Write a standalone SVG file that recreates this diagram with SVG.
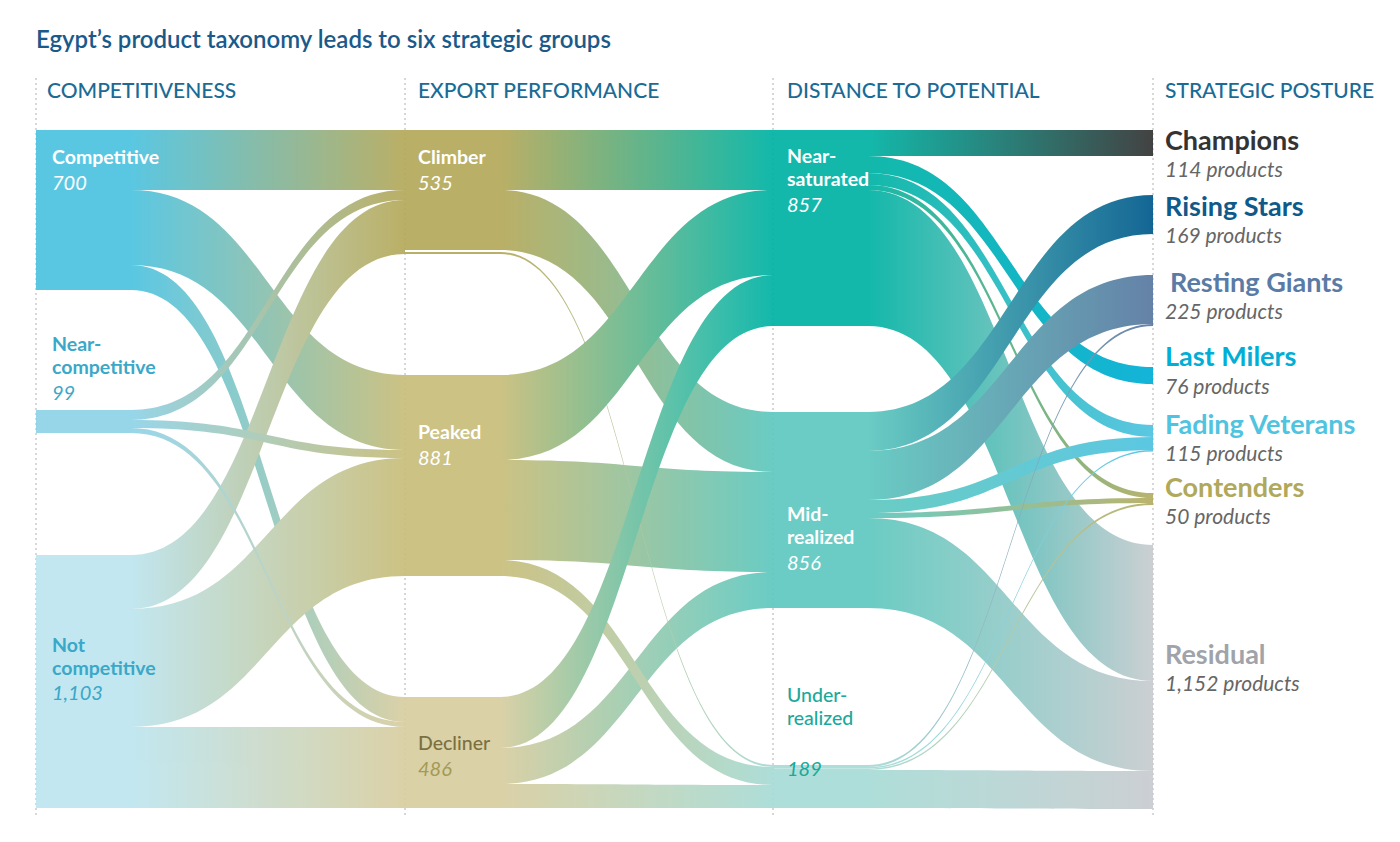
<svg xmlns="http://www.w3.org/2000/svg" width="1400" height="842" viewBox="0 0 1400 842">
<style>
.t{font-family:"Lato","Liberation Sans",sans-serif}
.h{font-size:21px;fill:#1a6b96;font-weight:500}
.n{font-size:19.5px;font-weight:700;fill:#fff}
.v{font-size:20px;font-style:italic;fill:#fff}
.r{font-size:27px;font-weight:700}
.p{font-size:21px;font-style:italic;fill:#666}
.f{opacity:0.92}
</style>
<defs>
<linearGradient id="g11" gradientUnits="userSpaceOnUse" x1="131" x2="405"><stop offset="0" stop-color="#4dc3e0"/><stop offset="1" stop-color="#b5a95a"/></linearGradient>
<linearGradient id="g12" gradientUnits="userSpaceOnUse" x1="131" x2="405"><stop offset="0" stop-color="#4dc3e0"/><stop offset="1" stop-color="#c8bd7a"/></linearGradient>
<linearGradient id="g13" gradientUnits="userSpaceOnUse" x1="131" x2="405"><stop offset="0" stop-color="#4dc3e0"/><stop offset="1" stop-color="#d8cea0"/></linearGradient>
<linearGradient id="g21" gradientUnits="userSpaceOnUse" x1="131" x2="405"><stop offset="0" stop-color="#8fd3e8"/><stop offset="1" stop-color="#b5a95a"/></linearGradient>
<linearGradient id="g22" gradientUnits="userSpaceOnUse" x1="131" x2="405"><stop offset="0" stop-color="#8fd3e8"/><stop offset="1" stop-color="#c8bd7a"/></linearGradient>
<linearGradient id="g23" gradientUnits="userSpaceOnUse" x1="131" x2="405"><stop offset="0" stop-color="#8fd3e8"/><stop offset="1" stop-color="#d8cea0"/></linearGradient>
<linearGradient id="g31" gradientUnits="userSpaceOnUse" x1="131" x2="405"><stop offset="0" stop-color="#bde5ef"/><stop offset="1" stop-color="#b5a95a"/></linearGradient>
<linearGradient id="g32" gradientUnits="userSpaceOnUse" x1="131" x2="405"><stop offset="0" stop-color="#bde5ef"/><stop offset="1" stop-color="#c8bd7a"/></linearGradient>
<linearGradient id="g33" gradientUnits="userSpaceOnUse" x1="131" x2="405"><stop offset="0" stop-color="#bde5ef"/><stop offset="1" stop-color="#d8cea0"/></linearGradient>
<linearGradient id="h11" gradientUnits="userSpaceOnUse" x1="500" x2="773"><stop offset="0" stop-color="#b5a95a"/><stop offset="1" stop-color="#00b3a4"/></linearGradient>
<linearGradient id="h12" gradientUnits="userSpaceOnUse" x1="500" x2="773"><stop offset="0" stop-color="#b5a95a"/><stop offset="1" stop-color="#5ec8bf"/></linearGradient>
<linearGradient id="h13" gradientUnits="userSpaceOnUse" x1="500" x2="773"><stop offset="0" stop-color="#b5a95a"/><stop offset="1" stop-color="#a8dcd6"/></linearGradient>
<linearGradient id="h21" gradientUnits="userSpaceOnUse" x1="500" x2="773"><stop offset="0" stop-color="#c8bd7a"/><stop offset="1" stop-color="#00b3a4"/></linearGradient>
<linearGradient id="h22" gradientUnits="userSpaceOnUse" x1="500" x2="773"><stop offset="0" stop-color="#c8bd7a"/><stop offset="1" stop-color="#5ec8bf"/></linearGradient>
<linearGradient id="h23" gradientUnits="userSpaceOnUse" x1="500" x2="773"><stop offset="0" stop-color="#c8bd7a"/><stop offset="1" stop-color="#a8dcd6"/></linearGradient>
<linearGradient id="h31" gradientUnits="userSpaceOnUse" x1="500" x2="773"><stop offset="0" stop-color="#d8cea0"/><stop offset="1" stop-color="#00b3a4"/></linearGradient>
<linearGradient id="h32" gradientUnits="userSpaceOnUse" x1="500" x2="773"><stop offset="0" stop-color="#d8cea0"/><stop offset="1" stop-color="#5ec8bf"/></linearGradient>
<linearGradient id="h33" gradientUnits="userSpaceOnUse" x1="500" x2="773"><stop offset="0" stop-color="#d8cea0"/><stop offset="1" stop-color="#a8dcd6"/></linearGradient>
<linearGradient id="kc" gradientUnits="userSpaceOnUse" x1="868" x2="1153"><stop offset="0" stop-color="#00b3a4"/><stop offset="1" stop-color="#333333"/></linearGradient>
<linearGradient id="kl" gradientUnits="userSpaceOnUse" x1="868" x2="1153"><stop offset="0" stop-color="#00b3a4"/><stop offset="1" stop-color="#00aed6"/></linearGradient>
<linearGradient id="kf" gradientUnits="userSpaceOnUse" x1="868" x2="1153"><stop offset="0" stop-color="#00b3a4"/><stop offset="1" stop-color="#4fc3e0"/></linearGradient>
<linearGradient id="ko" gradientUnits="userSpaceOnUse" x1="868" x2="1153"><stop offset="0" stop-color="#00b3a4"/><stop offset="1" stop-color="#b5ad62"/></linearGradient>
<linearGradient id="kr" gradientUnits="userSpaceOnUse" x1="868" x2="1153"><stop offset="0" stop-color="#00b3a4"/><stop offset="1" stop-color="#c8ccd0"/></linearGradient>
<linearGradient id="mr" gradientUnits="userSpaceOnUse" x1="868" x2="1153"><stop offset="0" stop-color="#5ec8bf"/><stop offset="1" stop-color="#005a8c"/></linearGradient>
<linearGradient id="mg" gradientUnits="userSpaceOnUse" x1="868" x2="1153"><stop offset="0" stop-color="#5ec8bf"/><stop offset="1" stop-color="#5878a0"/></linearGradient>
<linearGradient id="mf" gradientUnits="userSpaceOnUse" x1="868" x2="1153"><stop offset="0" stop-color="#5ec8bf"/><stop offset="1" stop-color="#4fc3e0"/></linearGradient>
<linearGradient id="mo" gradientUnits="userSpaceOnUse" x1="868" x2="1153"><stop offset="0" stop-color="#5ec8bf"/><stop offset="1" stop-color="#b5ad62"/></linearGradient>
<linearGradient id="ms" gradientUnits="userSpaceOnUse" x1="868" x2="1153"><stop offset="0" stop-color="#5ec8bf"/><stop offset="1" stop-color="#c8ccd0"/></linearGradient>
<linearGradient id="ug" gradientUnits="userSpaceOnUse" x1="868" x2="1153"><stop offset="0" stop-color="#a8dcd6"/><stop offset="1" stop-color="#5878a0"/></linearGradient>
<linearGradient id="uf" gradientUnits="userSpaceOnUse" x1="868" x2="1153"><stop offset="0" stop-color="#a8dcd6"/><stop offset="1" stop-color="#4fc3e0"/></linearGradient>
<linearGradient id="uo" gradientUnits="userSpaceOnUse" x1="868" x2="1153"><stop offset="0" stop-color="#a8dcd6"/><stop offset="1" stop-color="#b5ad62"/></linearGradient>
<linearGradient id="us" gradientUnits="userSpaceOnUse" x1="868" x2="1153"><stop offset="0" stop-color="#a8dcd6"/><stop offset="1" stop-color="#c8ccd0"/></linearGradient>
</defs>
<rect width="1400" height="842" fill="#fff"/>
<text class="t" x="36" y="48" font-size="24" font-weight="600" fill="#1a5a8a">Egypt’s product taxonomy leads to six strategic groups</text>
<g stroke="#b0b0b0" stroke-dasharray="2,3" stroke-width="1">
<line x1="36" y1="78" x2="36" y2="815"/><line x1="405" y1="78" x2="405" y2="815"/><line x1="773" y1="78" x2="773" y2="815"/><line x1="1153" y1="78" x2="1153" y2="815"/>
</g>
<g id="connectors" class="f">
<path fill="url(#g11)" d="M36 130 L131 130 C268 130 268 130 405 130 L405 190 C268 190 268 190 131 190 L36 190Z"/>
<path fill="url(#g12)" d="M36 190 L131 190 C268 190 268 375 405 375 L405 450 C268 450 268 265 131 265 L36 265Z"/>
<path fill="url(#g13)" d="M36 265 L131 265 C268 265 268 697 405 697 L405 722 C268 722 268 290 131 290 L36 290Z"/>
<path fill="url(#g33)" d="M36 727 L131 727 C268 727 268 727 405 727 L405 808 C268 808 268 808 131 808 L36 808Z"/>
<path fill="url(#g32)" d="M36 609 L131 609 C268 609 268 458 405 458 L405 576 C268 576 268 727 131 727 L36 727Z"/>
<path fill="url(#g31)" d="M36 555 L131 555 C268 555 268 200 405 200 L405 254 C268 254 268 609 131 609 L36 609Z"/>
<path fill="url(#g21)" d="M36 410 L131 410 C268 410 268 190 405 190 L405 200 C268 200 268 420 131 420 L36 420Z"/>
<path fill="url(#g22)" d="M36 420 L131 420 C268 420 268 450 405 450 L405 458 C268 458 268 428 131 428 L36 428Z"/>
<path fill="url(#g23)" d="M36 428 L131 428 C268 428 268 722 405 722 L405 727 C268 727 268 433 131 433 L36 433Z"/>

<path fill="url(#h11)" d="M405 130 L500 130 C636 130 636 130 773 130 L773 190 C636 190 636 190 500 190 L405 190Z"/>
<path fill="url(#h33)" d="M405 784 L500 784 C636 784 636 785 773 785 L773 808 C636 808 636 808 500 808 L405 808Z"/>
<path fill="url(#h32)" d="M405 748 L500 748 C636 748 636 572 773 572 L773 608 C636 608 636 784 500 784 L405 784Z"/>
<path fill="url(#h22)" d="M405 460 L500 460 C636 460 636 472 773 472 L773 572 C636 572 636 560 500 560 L405 560Z"/>
<path fill="url(#h23)" d="M405 560 L500 560 C636 560 636 767 773 767 L773 785 C636 785 636 576 500 576 L405 576Z"/>
<path fill="url(#h12)" d="M405 190 L500 190 C636 190 636 412 773 412 L773 472 C636 472 636 250 500 250 L405 250Z"/>
<path fill="url(#h13)" d="M405 252 L500 252 C636 252 636 765 773 765 L773 767 C636 767 636 254 500 254 L405 254Z"/>
<path fill="url(#h21)" d="M405 375 L500 375 C636 375 636 190 773 190 L773 275 C636 275 636 460 500 460 L405 460Z"/>
<path fill="url(#h31)" d="M405 697 L500 697 C636 697 636 275 773 275 L773 326 C636 326 636 748 500 748 L405 748Z"/>

<path fill="url(#kr)" d="M773 190 L868 190 C1010 190 1010 545 1153 545 L1153 681 C1010 681 1010 326 868 326 L773 326Z"/>
<path fill="url(#ms)" d="M773 518 L868 518 C1010 518 1010 681 1153 681 L1153 771 C1010 771 1010 608 868 608 L773 608Z"/>
<path fill="url(#us)" d="M773 770 L868 770 C1010 770 1010 771 1153 771 L1153 809 C1010 809 1010 808 868 808 L773 808Z"/>
<path fill="url(#kc)" d="M773 130 L868 130 C1010 130 1010 130 1153 130 L1153 156 C1010 156 1010 156 868 156 L773 156Z"/>
<path fill="url(#kl)" d="M773 156 L868 156 C1010 156 1010 367 1153 367 L1153 384 C1010 384 1010 173 868 173 L773 173Z"/>
<path fill="url(#kf)" d="M773 173 L868 173 C1010 173 1010 425 1153 425 L1153 437 C1010 437 1010 185 868 185 L773 185Z"/>
<path fill="url(#ko)" d="M773 185 L868 185 C1010 185 1010 493 1153 493 L1153 498 C1010 498 1010 190 868 190 L773 190Z"/>
<path fill="url(#mr)" d="M773 412 L868 412 C1010 412 1010 195 1153 195 L1153 234 C1010 234 1010 451 868 451 L773 451Z"/>
<path fill="url(#mg)" d="M773 451 L868 451 C1010 451 1010 275 1153 275 L1153 324 C1010 324 1010 500 868 500 L773 500Z"/>
<path fill="url(#mf)" d="M773 500 L868 500 C1010 500 1010 437 1153 437 L1153 450 C1010 450 1010 513 868 513 L773 513Z"/>
<path fill="url(#mo)" d="M773 513 L868 513 C1010 513 1010 498 1153 498 L1153 503 C1010 503 1010 518 868 518 L773 518Z"/>
<path fill="url(#ug)" d="M773 765 L868 765 C1010 765 1010 324 1153 324 L1153 326 C1010 326 1010 767 868 767 L773 767Z"/>
<path fill="url(#uf)" d="M773 767 L868 767 C1010 767 1010 450 1153 450 L1153 451.5 C1010 451.5 1010 768.5 868 768.5 L773 768.5Z"/>
<path fill="url(#uo)" d="M773 768.5 L868 768.5 C1010 768.5 1010 503 1153 503 L1153 505 C1010 505 1010 770 868 770 L773 770Z"/>
</g>
<g class="t">
<text class="h" x="47" y="98">COMPETITIVENESS</text>
<text class="h" x="418" y="98">EXPORT PERFORMANCE</text>
<text class="h" x="787" y="98">DISTANCE TO POTENTIAL</text>
<text class="h" x="1165" y="98">STRATEGIC POSTURE</text>
</g>
<g id="competitive" class="t"><text class="n" x="52" y="164">Competitive</text><text class="v" x="52" y="190">700</text></g>
<g id="near-competitive" class="t"><text class="n" x="52" y="351" style="fill:#3aa8c8">Near-</text><text class="n" x="52" y="374" style="fill:#3aa8c8">competitive</text><text class="v" x="52" y="400" style="fill:#3aa8c8">99</text></g>
<g id="not-competitive" class="t"><text class="n" x="52" y="652" style="fill:#3aa8c8">Not</text><text class="n" x="52" y="675" style="fill:#3aa8c8">competitive</text><text class="v" x="52" y="700" style="fill:#3aa8c8">1,103</text></g>
<g id="climber" class="t"><text class="n" x="418" y="164">Climber</text><text class="v" x="418" y="190">535</text></g>
<g id="peaked" class="t"><text class="n" x="418" y="439">Peaked</text><text class="v" x="418" y="465">881</text></g>
<g id="decliner" class="t"><text class="n" x="418" y="750" style="fill:#7a7040;font-weight:500">Decliner</text><text class="v" x="418" y="776" style="fill:#a39a55">486</text></g>
<g id="near-saturated" class="t"><text class="n" x="787" y="163">Near-</text><text class="n" x="787" y="186">saturated</text><text class="v" x="787" y="212">857</text></g>
<g id="mid-realized" class="t"><text class="n" x="787" y="521">Mid-</text><text class="n" x="787" y="544">realized</text><text class="v" x="787" y="570">856</text></g>
<g id="under-realized" class="t"><text class="n" x="787" y="702" style="fill:#1aa99a;font-weight:500">Under-</text><text class="n" x="787" y="725" style="fill:#1aa99a;font-weight:500">realized</text><text class="v" x="787" y="776" style="fill:#1aa99a">189</text></g>
<g id="champions" class="t"><text class="r" x="1165" y="150" fill="#333">Champions</text><text class="p" x="1165" y="177">114 products</text></g>
<g id="rising-stars" class="t"><text class="r" x="1165" y="216" fill="#0f5a8a">Rising Stars</text><text class="p" x="1165" y="243">169 products</text></g>
<g id="resting-giants" class="t"><text class="r" x="1170" y="292" fill="#5a7ba5">Resting Giants</text><text class="p" x="1165" y="319">225 products</text></g>
<g id="last-milers" class="t"><text class="r" x="1165" y="366" fill="#00aed6">Last Milers</text><text class="p" x="1165" y="394">76 products</text></g>
<g id="fading-veterans" class="t"><text class="r" x="1165" y="434" fill="#4fc3e0">Fading Veterans</text><text class="p" x="1165" y="461">115 products</text></g>
<g id="contenders" class="t"><text class="r" x="1165" y="497" fill="#b0a85a">Contenders</text><text class="p" x="1165" y="524">50 products</text></g>
<g id="residual" class="t"><text class="r" x="1165" y="664" fill="#a0a4aa">Residual</text><text class="p" x="1165" y="691">1,152 products</text></g>
</svg>
